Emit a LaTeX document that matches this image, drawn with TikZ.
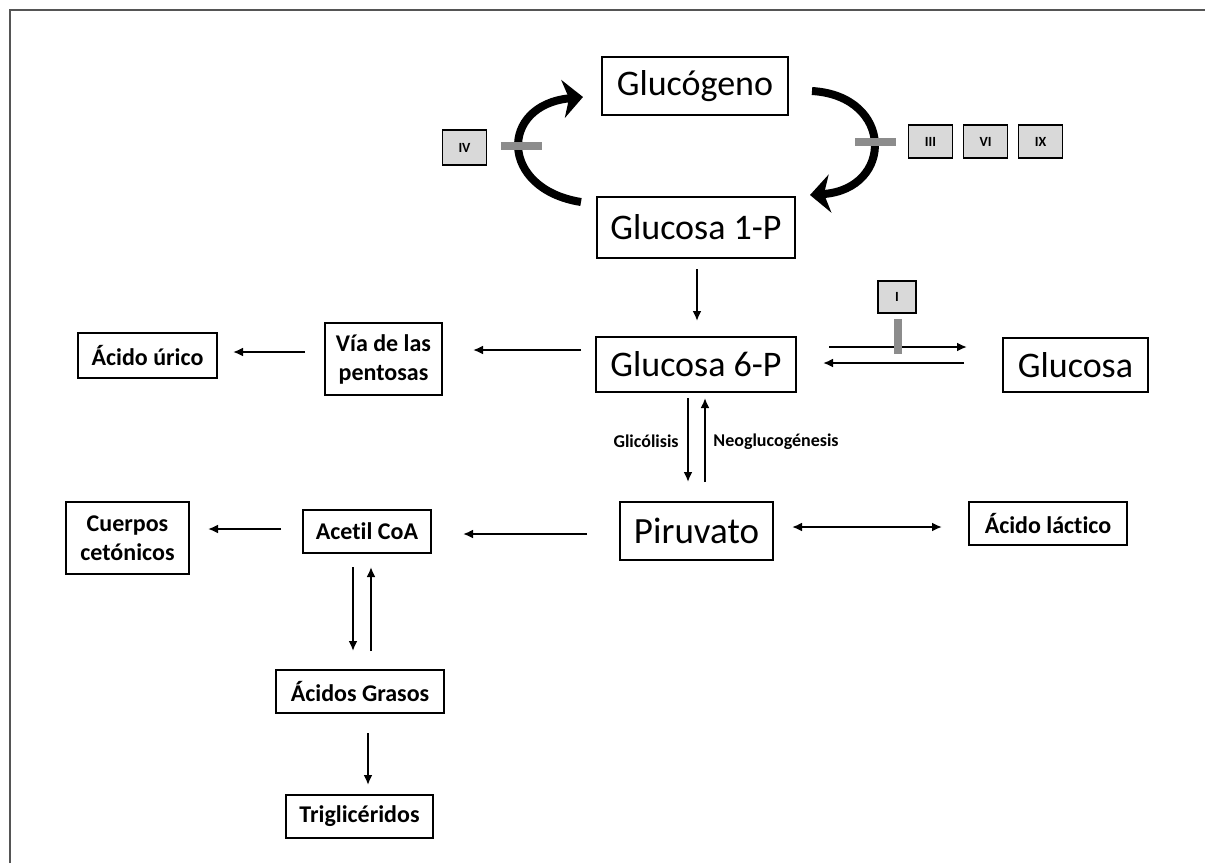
\documentclass[tikz,border=0pt]{standalone}
\usepackage{fontspec}
\setmainfont{Carlito}[Ligatures={NoCommon}]
\usetikzlibrary{arrows.meta,calc}
\definecolor{inhibgray}{HTML}{8C8C8C}
\definecolor{enzfill}{HTML}{D9D9D9}
\definecolor{framegray}{HTML}{555555}
\begin{document}
\begin{tikzpicture}[x=0.5pt,y=-0.5pt,
  box/.style={draw=black,line width=1pt,inner sep=0pt,align=center,text=black},
  bigbox/.style={box,font=\fontsize{18}{20}\selectfont},
  smallbox/.style={box,font=\fontsize{12}{14.5}\selectfont\bfseries},
  enzbox/.style={draw=black,line width=0.9pt,fill=enzfill,minimum width=22pt,minimum height=16.5pt,inner sep=0pt,font=\fontsize{7}{8}\selectfont\bfseries},
  arr/.style={draw=black,line width=1pt,-{Latex[length=5pt,width=4.5pt]}},
  darr/.style={draw=black,line width=1pt,{Latex[length=5pt,width=4.5pt]}-{Latex[length=5pt,width=4.5pt]}},
  bigarr/.style={draw=black,line width=4pt,-{Stealth[length=10pt,width=19pt,inset=3pt]}},
  inhib/.style={draw=inhibgray,line width=4pt},
  lbl/.style={inner sep=0pt,font=\fontsize{9}{10}\selectfont\bfseries}
]
\useasboundingbox (0,0) rectangle (1205,863);
\draw[framegray,line width=1pt] (10,863) -- (10,10) -- (1205,10);

% main nodes
\node[bigbox,minimum width=93pt,minimum height=29pt] (gluc) at (695,86) {Glucógeno};
\node[bigbox,minimum width=99pt,minimum height=30.5pt] (g1p) at (696,227.5) {Glucosa 1-P};
\node[bigbox,minimum width=100pt,minimum height=27.5pt] (g6p) at (696,364.5) {Glucosa 6-P};
\node[bigbox,minimum width=72.5pt,minimum height=27pt] (glc) at (1075.5,365) {Glucosa};
\node[smallbox,minimum width=58.5pt,minimum height=36pt] (via) at (383.5,359) {Vía de las\\pentosas};
\node[smallbox,minimum width=69.5pt,minimum height=22.5pt] (uric) at (147.5,355.5) {Ácido úrico};
\node[bigbox,minimum width=76.5pt,minimum height=29pt,font=\fontsize{18.5}{20}\selectfont] (pir) at (696.5,531) {Piruvato};
\node[smallbox,minimum width=79pt,minimum height=21.5pt] (lac) at (1048,523.5) {Ácido láctico};
\node[smallbox,minimum width=64pt,minimum height=21.5pt] (acoa) at (367,531.5) {Acetil CoA};
\node[smallbox,minimum width=61.5pt,minimum height=36pt] (cc) at (127.5,538) {Cuerpos\\cetónicos};
\node[smallbox,minimum width=84pt,minimum height=21.5pt] (ag) at (360,691.5) {Ácidos Grasos};
\node[smallbox,minimum width=73.5pt,minimum height=21.5pt] (tg) at (359.5,816.5) {Triglicéridos};

% enzyme boxes
\node[enzbox,minimum height=17.5pt] (eIV) at (464.5,147.5) {IV};
\node[enzbox] (eIII) at (930.5,141.5) {III};
\node[enzbox] (eVI) at (985.5,141.5) {VI};
\node[enzbox] (eIX) at (1040.5,141.5) {IX};
\node[enzbox,minimum width=19pt,minimum height=16pt] (eI) at (897,297) {I};

% big curved arrows
\draw[bigarr] ($(g1p.north west)+(-15,6)$) .. controls +(-82,-13) and +(-84,8) .. ($(gluc.west)+(-18,11)$);
\draw[bigarr] ($(gluc.east)+(23,5)$) .. controls +(82,5) and +(84,-6) .. ($(g1p.north east)+(14,-1)$);

% inhibition bars
\draw[inhib] ($(eIV.east)+(13.5,-2)$) -- ($(eIV.east)+(54.5,-2)$);
\draw[inhib] ($(eIII.west)+(-52.5,0)$) -- ($(eIII.west)+(-11.5,0)$);

% thin arrows
\draw[arr] ($(g1p.south)+(1,10)$) -- ($(g6p.north)+(1,-15)$);
\draw[arr] ($(g6p.west)+(-14,-14.5)$) -- ($(via.east)+(30,-9)$);
\draw[arr] ($(via.west)+(-19,-7)$) -- ($(uric.east)+(15,-3.5)$);
\draw[arr] ($(g6p.east)+(32,-17.5)$) -- ($(glc.west)+(-35,-18)$);
\draw[arr] ($(glc.west)+(-38,-2)$) -- ($(g6p.east)+(26,-1.5)$);
\draw[inhib] ($(eI.south)+(1,5)$) -- ($(eI.south)+(1,40)$);
\draw[arr] ($(g6p.south)+(-8,5)$) -- ($(pir.north)+(-8.5,-19)$);
\draw[arr] ($(pir.north)+(8.5,-19)$) -- ($(g6p.south)+(9,5)$);
\draw[arr] ($(pir.west)+(-32,3)$) -- ($(acoa.east)+(31,2.5)$);
\draw[darr] ($(pir.east)+(18,-4)$) -- ($(lac.west)+(-26,3.5)$);
\draw[arr] ($(acoa.west)+(-21,-2.5)$) -- ($(cc.east)+(18,-9)$);
\draw[arr] ($(acoa.south)+(-14,13)$) -- ($(ag.north)+(-7,-18)$);
\draw[arr] ($(ag.north)+(11,-18)$) -- ($(acoa.south)+(4,13)$);
\draw[arr] ($(ag.south)+(8,19)$) -- ($(tg.north)+(8.5,-9)$);

% labels
\node[lbl,anchor=east] (lglic) at (679,441) {Glicólisis};
\node[lbl,anchor=west] (lneo) at (713,442) {Neoglucogénesis};
\end{tikzpicture}
\end{document}
